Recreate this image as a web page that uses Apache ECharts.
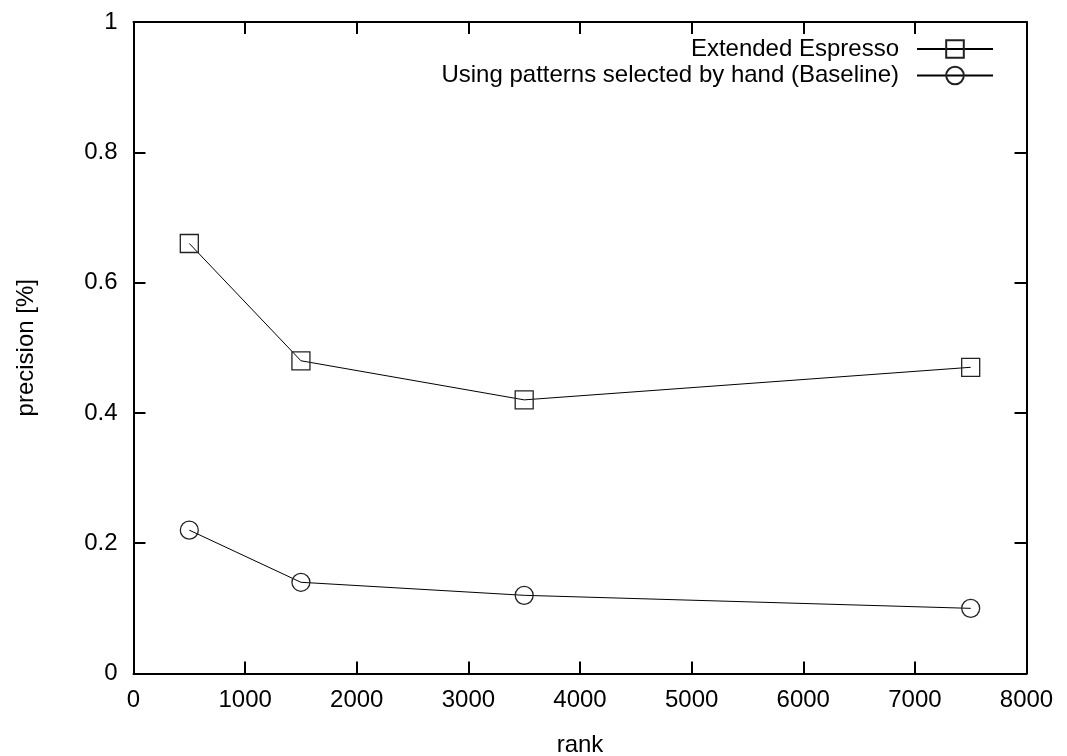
<!DOCTYPE html>
<html>
<head>
<meta charset="utf-8">
<script src="https://cdn.jsdelivr.net/npm/echarts@6/dist/echarts.min.js"></script>
<style>
  html, body { margin: 0; padding: 0; background: #fff; }
  #chart { width: 1067px; height: 756px; }
</style>
</head>
<body>
<div id="chart"></div>
<script>
// Ranks at which precision was measured
const ranks = [500, 1500, 3500, 7500];
// Precision of each method at those ranks
const extendedEspresso = [0.66, 0.48, 0.42, 0.47];
const baseline = [0.22, 0.14, 0.12, 0.10];
const seriesNames = ['Extended Espresso', 'Using patterns selected by hand (Baseline)'];
const xAxisName = 'rank';
const yAxisName = 'precision [%]';

const FONT = '"Liberation Sans", Arial, sans-serif';
const FS = 24;

function pairs(xs, ys) { return xs.map((x, i) => [x, ys[i]]); }

const axisLine = { show: true, onZero: false, lineStyle: { color: '#000', width: 2 } };
const axisTick = { show: true, inside: true, length: 12, lineStyle: { color: '#000', width: 2 } };

// Top and right axes only repeat the frame and the inward ticks
const mirrorAxis = (extra) => Object.assign({
  axisLine: axisLine,
  axisTick: axisTick,
  axisLabel: { show: false },
  splitLine: { show: false }
}, extra);

const legendBase = (name, top) => ({
  data: [name],
  right: 73,
  top: top,
  padding: 0,
  orient: 'vertical',
  align: 'right',
  itemWidth: 76,
  itemHeight: 22,
  selectedMode: false,
  textStyle: { fontFamily: FONT, fontSize: FS, color: '#000', padding: [0, 13, 0, 0] }
});

const chart = echarts.init(document.getElementById('chart'), null, { renderer: 'canvas' });
chart.setOption({
  backgroundColor: '#fff',
  animation: false,
  grid: { left: 133.5, right: 40.5, top: 22, bottom: 82.5, containLabel: false, outerBoundsMode: 'none' },
  legend: [
    legendBase(seriesNames[0], 37),
    legendBase(seriesNames[1], 63.5)
  ],
  xAxis: [
    {
      type: 'value', min: 0, max: 8000, interval: 1000, position: 'bottom',
      name: xAxisName, nameLocation: 'middle', nameGap: 60,
      nameTextStyle: { fontFamily: FONT, fontSize: FS, color: '#000' },
      axisLine: axisLine,
      axisTick: axisTick,
      axisLabel: { fontFamily: FONT, fontSize: FS, color: '#000', margin: 15,
        formatter: v => String(v) },
      splitLine: { show: false }
    },
    mirrorAxis({ type: 'value', min: 0, max: 8000, interval: 1000, position: 'top' })
  ],
  yAxis: [
    {
      type: 'value', min: 0, max: 1, interval: 0.2, position: 'left',
      name: yAxisName, nameLocation: 'middle', nameGap: 95, nameRotate: 90,
      nameTextStyle: { fontFamily: FONT, fontSize: FS, color: '#000' },
      axisLine: axisLine,
      axisTick: axisTick,
      axisLabel: { fontFamily: FONT, fontSize: FS, color: '#000', margin: 16,
        formatter: v => String(Math.round(v * 10) / 10) },
      splitLine: { show: false }
    },
    mirrorAxis({ type: 'value', min: 0, max: 1, interval: 0.2, position: 'right' })
  ],
  series: [
    {
      name: seriesNames[0], type: 'line',
      data: pairs(ranks, extendedEspresso),
      symbol: 'rect', symbolSize: 18,
      lineStyle: { color: '#000', width: 1 },
      itemStyle: { color: 'rgba(0,0,0,0)', borderColor: '#222', borderWidth: 1.3 },
      emphasis: { disabled: true }
    },
    {
      name: seriesNames[1], type: 'line',
      data: pairs(ranks, baseline),
      symbol: 'circle', symbolSize: 18,
      lineStyle: { color: '#000', width: 1 },
      itemStyle: { color: 'rgba(0,0,0,0)', borderColor: '#222', borderWidth: 1.3 },
      emphasis: { disabled: true }
    }
  ]
});
</script>
</body>
</html>
